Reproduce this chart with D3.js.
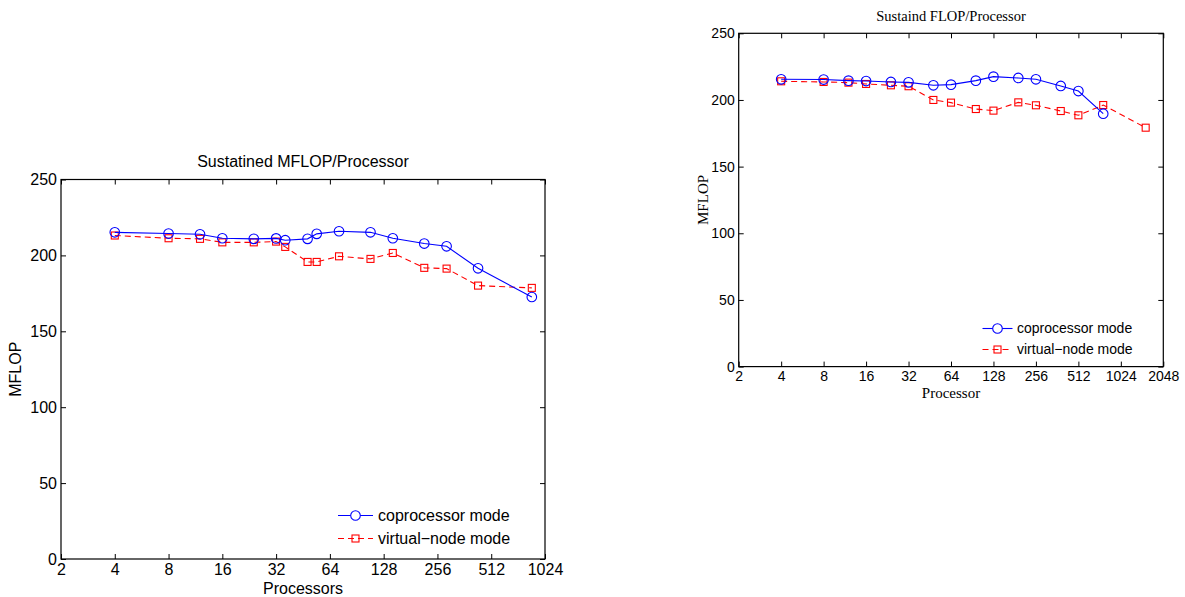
<!DOCTYPE html>
<html>
<head>
<meta charset="utf-8">
<script src="https://cdn.jsdelivr.net/npm/d3@7"></script>
<style>
  html, body { margin: 0; padding: 0; background: #fff; }
  svg { display: block; }
</style>
</head>
<body>
<svg id="fig" width="1185" height="597"></svg>
<script>
// ---- Sustained MFLOP/Processor (left panel) ----
const leftProcs   = [4, 8, 12, 16, 24, 32, 36, 48, 54, 72, 108, 144, 216, 288, 432, 864];
const leftCopro   = [215.2, 214.4, 213.9, 211.3, 210.9, 211.2, 210.0, 210.9, 214.2, 215.9, 215.2, 211.3, 207.8, 206.0, 191.5, 172.6];
const leftVirtual = [213.1, 211.3, 210.9, 208.6, 208.6, 209.1, 205.6, 195.7, 195.7, 199.4, 197.7, 201.6, 191.8, 191.3, 180.1, 178.6];
const leftTicksX  = [2, 4, 8, 16, 32, 64, 128, 256, 512, 1024];

// ---- Sustaind FLOP/Processor (right panel) ----
const rightProcsCopro   = [4, 8, 12, 16, 24, 32, 48, 64, 96, 128, 192, 256, 384, 512, 768];
const rightCopro        = [215.5, 215.3, 214.5, 214.2, 213.5, 213.2, 211.0, 211.5, 214.5, 217.5, 216.5, 215.5, 210.5, 206.7, 189.7];
const rightProcsVirtual = [4, 8, 12, 16, 24, 32, 48, 64, 96, 128, 192, 256, 384, 512, 768, 1536];
const rightVirtual      = [214.0, 213.5, 213.0, 212.0, 211.0, 210.3, 200.0, 198.0, 193.2, 192.0, 198.2, 196.0, 191.7, 188.5, 196.2, 179.2];
const rightTicksX       = [2, 4, 8, 16, 32, 64, 128, 256, 512, 1024, 2048];

const ticksY = [0, 50, 100, 150, 200, 250];
const seriesNames = ["coprocessor mode", "virtual\u2212node mode"];

const SANS = "'Liberation Sans', Arial, Helvetica, sans-serif";
const SERIF = "'Liberation Serif', 'Times New Roman', serif";

const svg = d3.select("#fig");

function drawPanel(p) {
  const g = svg.append("g");
  const x = d3.scaleLog().base(2).domain(p.xDomain).range([p.x0, p.x1]);
  const y = d3.scaleLinear().domain([0, 250]).range([p.y1, p.y0]);

  // inward ticks on all four sides
  const tickLen = 5;
  const bottom = g.append("g").attr("transform", `translate(0,${p.y1})`)
    .call(d3.axisBottom(x).tickValues(p.ticksX).tickFormat(d3.format("d"))
      .tickSizeInner(-tickLen).tickSizeOuter(0).tickPadding(p.xPad));
  const top = g.append("g").attr("transform", `translate(0,${p.y0})`)
    .call(d3.axisTop(x).tickValues(p.ticksX).tickFormat("")
      .tickSizeInner(-tickLen).tickSizeOuter(0));
  const left = g.append("g").attr("transform", `translate(${p.x0},0)`)
    .call(d3.axisLeft(y).tickValues(ticksY).tickFormat(d3.format("d"))
      .tickSizeInner(-tickLen).tickSizeOuter(0).tickPadding(p.yPad));
  const right = g.append("g").attr("transform", `translate(${p.x1},0)`)
    .call(d3.axisRight(y).tickValues(ticksY).tickFormat("")
      .tickSizeInner(-tickLen).tickSizeOuter(0));

  [bottom, top, left, right].forEach(a => {
    a.select(".domain").remove();
    a.selectAll(".tick line").attr("stroke", "#000").attr("stroke-width", 1);
    a.selectAll(".tick text").attr("fill", "#000")
      .style("font-family", SANS).style("font-size", p.tickFont + "px");
  });

  // axes box
  g.append("rect")
    .attr("x", p.x0).attr("y", p.y0)
    .attr("width", p.x1 - p.x0).attr("height", p.y1 - p.y0)
    .attr("fill", "none").attr("stroke", "#000").attr("stroke-width", 1.2);

  const line = d3.line().x(d => x(d[0])).y(d => y(d[1]));
  const coproPts = p.coproX.map((v, i) => [v, p.copro[i]]);
  const virtPts = p.virtX.map((v, i) => [v, p.virt[i]]);

  // virtual-node mode: red dashed with squares
  g.append("path").datum(virtPts).attr("d", line)
    .attr("fill", "none").attr("stroke", "#ff0000").attr("stroke-width", 1.1)
    .attr("stroke-dasharray", "6,4");
  const sq = 7;
  g.selectAll(".sq").data(virtPts).join("rect")
    .attr("x", d => x(d[0]) - sq / 2).attr("y", d => y(d[1]) - sq / 2)
    .attr("width", sq).attr("height", sq)
    .attr("fill", "none").attr("stroke", "#ff0000").attr("stroke-width", 1.1);

  // coprocessor mode: blue solid with circles
  g.append("path").datum(coproPts).attr("d", line)
    .attr("fill", "none").attr("stroke", "#0000ff").attr("stroke-width", 1.1);
  g.selectAll(".ci").data(coproPts).join("circle")
    .attr("cx", d => x(d[0])).attr("cy", d => y(d[1])).attr("r", 4.8)
    .attr("fill", "none").attr("stroke", "#0000ff").attr("stroke-width", 1.1);

  // legend
  const L = p.legend;
  const lg = g.append("g");
  lg.append("line").attr("x1", L.lx0).attr("x2", L.lx1).attr("y1", L.row1).attr("y2", L.row1)
    .attr("stroke", "#0000ff").attr("stroke-width", 1.1);
  lg.append("circle").attr("cx", (L.lx0 + L.lx1) / 2).attr("cy", L.row1).attr("r", 4.8)
    .attr("fill", "#fff").attr("stroke", "#0000ff").attr("stroke-width", 1.1);
  lg.append("line").attr("x1", L.lx0).attr("x2", L.lx1).attr("y1", L.row2).attr("y2", L.row2)
    .attr("stroke", "#ff0000").attr("stroke-width", 1.1).attr("stroke-dasharray", "6,4")
    .attr("stroke-dashoffset", L.dashOffset);
  lg.append("rect").attr("x", (L.lx0 + L.lx1) / 2 - sq / 2).attr("y", L.row2 - sq / 2)
    .attr("width", sq).attr("height", sq)
    .attr("fill", "none").attr("stroke", "#ff0000").attr("stroke-width", 1.1);
  [L.row1, L.row2].forEach((ry, i) => {
    lg.append("text").attr("x", L.tx).attr("y", ry).attr("dy", "0.35em")
      .style("font-family", SANS).style("font-size", L.font + "px")
      .attr("fill", "#000").text(seriesNames[i]);
  });

  // title and labels
  g.append("text").attr("x", (p.x0 + p.x1) / 2).attr("y", p.titleY)
    .attr("text-anchor", "middle").style("font-family", p.labelFamily)
    .style("font-size", p.titleFont + "px").attr("fill", "#000").text(p.title);
  g.append("text").attr("x", (p.x0 + p.x1) / 2).attr("y", p.xLabelY)
    .attr("text-anchor", "middle").style("font-family", p.labelFamily)
    .style("font-size", p.labelFont + "px").attr("fill", "#000").text(p.xLabel);
  g.append("text")
    .attr("transform", `translate(${p.yLabelX},${(p.y0 + p.y1) / 2}) rotate(-90)`)
    .attr("text-anchor", "middle").style("font-family", p.labelFamily)
    .style("font-size", p.labelFont + "px").attr("fill", "#000").text("MFLOP");
}

drawPanel({
  x0: 61, x1: 545, y0: 179.5, y1: 559,
  xDomain: [2, 1024], ticksX: leftTicksX,
  coproX: leftProcs, copro: leftCopro, virtX: leftProcs, virt: leftVirtual,
  tickFont: 16, xPad: 5, yPad: 4,
  labelFamily: SANS, titleFont: 16, labelFont: 16,
  title: "Sustatined MFLOP/Processor", titleY: 167,
  xLabel: "Processors", xLabelY: 594, yLabelX: 21,
  legend: { lx0: 338, lx1: 373, row1: 515.5, row2: 538.5, tx: 378, font: 16, dashOffset: 0 }
});

drawPanel({
  x0: 738.7, x1: 1163.3, y0: 33.3, y1: 366.6,
  xDomain: [2, 2048], ticksX: rightTicksX,
  coproX: rightProcsCopro, copro: rightCopro, virtX: rightProcsVirtual, virt: rightVirtual,
  tickFont: 14, xPad: 4, yPad: 4,
  labelFamily: SERIF, titleFont: 14.5, labelFont: 15,
  title: "Sustaind FLOP/Processor", titleY: 21,
  xLabel: "Processor", xLabelY: 398, yLabelX: 708,
  legend: { lx0: 982.5, lx1: 1012.5, row1: 328.5, row2: 349.5, tx: 1017, font: 14, dashOffset: 0 }
});
</script>
</body>
</html>
